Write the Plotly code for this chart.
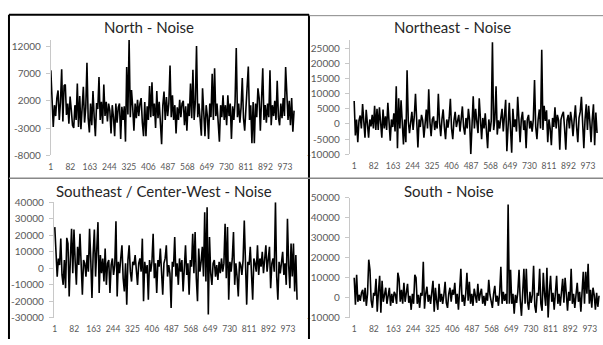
import plotly.graph_objects as go

W, H = 603, 345

# sample index (every 5th observation of ~1015)
obs_index = list(range(1, 1012, 5))

tick_positions = [1, 82, 163, 244, 325, 406, 487, 568, 649, 730, 811, 892, 973]
tick_labels = ["1", "82", "163", "244", "325", "406", "487", "568", "649", "730", "811", "892", "973"]

north_ticks = [-8000, -3000, 2000, 7000, 12000]
northeast_ticks = [-10000, -5000, 0, 5000, 10000, 15000, 20000, 25000]
southeast_cw_ticks = [-30000, -20000, -10000, 0, 10000, 20000, 30000, 40000]
south_ticks = [-10000, 0, 10000, 20000, 30000, 40000, 50000]

north = [
    7600, 500, -2800, 1200, -800, 2500, 3900, -1500, 1800, 7800,
    -1800, 4800, 5000, -600, 1500, -2200, 2800, 300, -2500, -3000,
    1200, -1500, 5200, -2800, 2900, -3200, 1000, 4600, -2000, 700,
    9000, -1200, -3800, 1500, -2500, 3800, -1000, -4500, 1600, 500,
    6400, -1500, 1800, -2200, 5000, -800, 1800, -1800, 1500, 200,
    -4000, 1200, -1000, -4500, 1500, -2000, 800, 1500, -5000, 900,
    -1500, 1000, -5500, 8200, -500, 13200, -1000, 4000, 800, -3500,
    1500, -1200, 2200, -800, 1500, 2500, -2000, -4500, 1800, -4500,
    1000, -1500, 4700, -1000, 5400, -800, 1500, -3000, 3800, -1200,
    1800, -2000, -6000, 1200, 3700, -1500, 2700, -800, 1500, 8500,
    -1000, 3000, -1500, 1200, -4000, 800, -1500, 2200, -1000, 1500,
    2000, -2500, 1000, -3500, 1500, -800, 5200, -1200, 7700, -1500,
    1800, 12100, -1000, 1500, -2000, -4400, 4300, -1000, -4500, 1200,
    -800, -5000, 1500, -1000, 7000, -1500, 8000, -800, 1500, -2000,
    -5500, 1200, -1000, 3000, -1500, 1200, -2500, 3000, -800, 1500,
    -5000, 1000, -1500, 1800, 11700, -1000, 1500, -2000, 800, 6200,
    -1200, -3500, 1500, 4500, 8300, -1500, 1200, -5800, 1800, -5800,
    1500, -1000, 4300, 2500, -3500, 1000, 8000, -1500, 1200, -2000,
    1500, -1000, 7600, -2500, 1200, -800, 2000, -1500, 5700, -1000,
    -2500, 1500, -1200, 2500, -800, 8200, 3300, -1500, 2000, -2500,
    2500, -3700, 200,
]

northeast = [
    7600, -3800, 1500, -6000, 1200, 2800, -1500, 6600, 800, -4500,
    4700, -1200, -4500, 1500, -800, 3000, -1500, 6000, -2000, 5000,
    -2000, 5500, 1500, -4500, 4800, -1500, 2500, -2000, 7000, 1200,
    -5500, 1500, -1000, 3500, -2500, 12500, -8000, 8500, -1500, 7800,
    1000, -6800, 1500, -6000, 17800, 1000, -3000, 1500, 4000, -2000,
    2500, 10000, -1500, -7800, 1500, -1000, 3000, 1200, -4500, 2000,
    4800, -1500, 11500, 800, -4000, 1500, 2500, -2000, 1000, -1500,
    10000, 500, -4000, 1500, 4800, -1000, -5000, 1500, -1200, 2000,
    8300, -1500, -5000, 1200, 4000, -1000, 1500, 3000, -2500, 1200,
    5800, -1000, -3500, 2000, -1500, 5000, 1200, -10000, 1500, 9200,
    -1500, 5000, 800, -3000, 8500, 1200, -5000, 2000, -1500, 3500,
    -1000, -8000, 1500, -2500, 1000, 27000, -2000, 1500, 12500, -3500,
    1200, -1500, 2000, 5000, -2500, 1500, 8000, -9000, 1000, 7000,
    -1500, -9500, 5000, -1000, 1500, -2500, 9000, 1000, -6000, 1500,
    4000, -2000, 1200, -8000, 1500, 3000, -1500, 1000, -2500, 1500,
    14500, -1000, -5000, 1500, 4800, -1500, 24500, -2000, 6000, 1000,
    4500, -6000, 1500, -1500, -7000, 2000, -1000, 5500, -1500, 3000,
    1200, -8500, 1500, 3000, 4000, -1500, -8500, 1200, 3000, -1500,
    4000, 1000, -4000, 1500, 6200, -1000, -6000, 2000, 4000, 9000,
    -1500, -8000, 1500, 6500, -2000, 6000, 1000, -6000, 1500, 6500,
    -7000, 3800, -3000,
]

southeast_cw = [
    25000, 4000, -5000, 6000, 2000, 18000, -4000, -10000, 5000, -12000,
    18500, 15000, -17000, 6000, 24000, -3000, 23500, 4000, -10000, 13000,
    2000, 21000, -6000, -16000, 5000, 3000, -5000, 8000, -2000, 24000,
    5000, -18000, 9000, 23500, -5000, 10000, 28000, -15000, 8000, -3000,
    6000, -8000, 12000, -10000, 3000, 5000, -15000, 2000, 6000, -4000,
    2000, 28500, -17000, 4000, -3000, 6000, 14000, -6000, -14000, 3000,
    -22000, 5000, 14000, -2000, -8000, 4000, 2000, 8000, -4000, -10000,
    3000, 6000, -2000, 18000, -20000, 4000, -3000, 2000, -19000, 5000,
    -2000, 4000, 21000, -6000, 3000, -15000, 5000, 1000, 12000, -4000,
    -16000, 3000, 6000, 14000, -5000, 2000, -3000, -24000, 4000, 1000,
    19000, -5000, 3000, -10000, 6000, -2000, 5000, -14000, 2000, 14000,
    -4000, 3000, -16000, 5000, 1000, 21000, -3000, 22000, -6000, -20000,
    12000, -2000, 4000, 13000, -5000, 34000, -8000, 37000, -28000, 19000,
    -3000, -10000, 3000, 5000, -5000, 2000, -7000, 4000, -3000, 6000,
    -2000, 3000, 27000, -6000, 25000, -19000, 4000, -2000, 6000, 22000,
    -10000, 3000, -5000, -17000, 4000, 2000, -4000, 5000, 29000, -6000,
    -22000, 4000, 2000, 13000, -5000, -19000, 6000, 3000, -2000, 14000,
    -4000, 6000, 1000, 10000, -3000, 5000, 14000, -2000, 4000, 13000,
    -12000, 3000, 6000, -2000, 40000, -5000, -19000, 4000, -3000, 2000,
    10000, -4000, 3000, -10000, 30000, 2000, -12000, 15000, -5000, 15000,
    -14000, 8000, -19000,
]

south = [
    10000, -3500, 11500, -2000, 1500, -1500, 2500, 4000, -2000, 5000,
    -4000, 2000, 19000, 14000, -1500, -5000, 2500, 1000, 9500, -7000,
    3000, 11000, -7500, 8500, -2000, 2000, 5000, -3000, 1000, 5000,
    -4000, 2000, -2500, 3000, 1500, -3000, 12500, 9500, -2000, 4000,
    -3000, 7500, -2000, 1500, 7000, -2500, 1000, -6000, 2000, -3000,
    11500, 10000, -3000, 1500, -5000, 2500, 1000, 18000, -5500, 2000,
    5500, -2000, 1500, -3000, 2000, 8500, -7000, 5000, -1500, -6000,
    7000, -2000, 2000, -3000, 1500, 8000, -2500, -5000, 2000, 5000,
    -2000, 4000, 1500, 7500, -3000, 2000, -6000, 3000, 14500, -2000,
    1500, -4000, 2000, 12500, -1500, 8000, -3000, 2000, -4000, 4500,
    1000, -2500, 7000, -1500, 2000, 4500, -3000, 1000, -4000, 2500,
    -1500, 9000, 1500, -3000, -5000, 2000, 6000, -2000, 1000, -4000,
    2500, 15500, -3000, 3000, -1500, 2000, -3000, 46500, -3000, 14000,
    -3000, 2000, -8000, 1500, -2500, 3000, 14000, -1500, -9000, 2500,
    14500, -3000, 14500, -2000, -6000, 3000, -2500, 1500, 16000, -4000,
    -7500, 2500, 1000, 14500, -3000, -6500, 12500, 2000, -4000, 15000,
    -10000, 3000, 11000, -2000, 2500, -6000, 1500, 11000, -3000, 2000,
    -4000, 1500, 9500, -2500, 10000, 2000, -6500, 3000, -1500, 14500,
    -3000, 2000, -5000, 1500, 7500, -2000, 3000, -7000, 2500, 13000,
    -3000, 13000, 2000, 17000, -3000, 4000, -5000, 5000, 1500, -6000,
    2500, -4500, 1000,
]

titles = ["North - Noise", "Northeast - Noise", "Southeast / Center-West - Noise", "South - Noise"]
series = [north, northeast, southeast_cw, south]
ytick_sets = [north_ticks, northeast_ticks, southeast_cw_ticks, south_ticks]


def px_x(v):
    return v / W


def px_y(v):
    return 1 - v / H


# layout geometry in pixels
panels = [
    dict(x0=49, x1=294, yt=34, yb=154, xr=[1, 1015], yr=[-8000, 13240], tx=147, ty=21),
    dict(x0=349, x1=598, yt=34, yb=153, xr=[-17, 1015], yr=[-10000, 27860], tx=452, ty=21),
    dict(x0=52, x1=297, yt=203, yb=323, xr=[-3, 1015], yr=[-30000, 40000], tx=163, ty=191),
    dict(x0=349, x1=600, yt=198, yb=323, xr=[-17, 1015], yr=[-10000, 50000], tx=448, ty=191),
]

FONT = "Lato"
ytick_font = dict(family=FONT, size=10, color="#595959")
xtick_font = dict(family=FONT, size=8.5, color="#595959")

fig = go.Figure()
annotations = []
for i, (p, s, t, yt) in enumerate(zip(panels, series, titles, ytick_sets)):
    n = "" if i == 0 else str(i + 1)
    fig.add_trace(go.Scatter(
        x=obs_index, y=s, mode="lines",
        line=dict(color="black", width=1.6),
        xaxis="x" + n, yaxis="y" + n, showlegend=False, hoverinfo="skip",
    ))
    fig.layout["xaxis" + n] = dict(
        domain=[px_x(p["x0"]), px_x(p["x1"])], range=p["xr"], anchor="y" + n,
        tickmode="array", tickvals=tick_positions, ticktext=tick_labels, tickangle=0,
        showline=False, showgrid=False, zeroline=False, ticks="",
        tickfont=xtick_font, ticklabelstandoff=5, fixedrange=True,
    )
    fig.layout["yaxis" + n] = dict(
        domain=[px_y(p["yb"]), px_y(p["yt"])], range=p["yr"], anchor="x" + n,
        tickmode="array", tickvals=yt, ticktext=[str(v) for v in yt],
        showline=True, linecolor="#c8c8c8", linewidth=1,
        ticks="outside", ticklen=4, tickcolor="#c8c8c8", showgrid=False, zeroline=False,
        tickfont=ytick_font, ticklabelstandoff=3, fixedrange=True,
    )
    annotations.append(dict(
        text=t, x=px_x(p["tx"]), y=px_y(p["ty"]), xref="paper", yref="paper",
        xanchor="center", yanchor="middle", showarrow=False,
        font=dict(family=FONT, size=15, color="#262626"),
    ))

shapes = [
    dict(type="line", xref="paper", yref="paper", x0=px_x(7), x1=px_x(308), y0=px_y(8), y1=px_y(8),
         line=dict(color="black", width=2)),
    dict(type="line", xref="paper", yref="paper", x0=px_x(7), x1=px_x(7), y0=px_y(8), y1=0,
         line=dict(color="black", width=2)),
    dict(type="line", xref="paper", yref="paper", x0=px_x(308), x1=px_x(308), y0=px_y(8), y1=0,
         line=dict(color="black", width=2)),
    dict(type="line", xref="paper", yref="paper", x0=px_x(308), x1=1, y0=px_y(9), y1=px_y(9),
         line=dict(color="#888888", width=1)),
    dict(type="line", xref="paper", yref="paper", x0=px_x(7), x1=1, y0=px_y(178), y1=px_y(178),
         line=dict(color="#888888", width=1.5)),
]

fig.update_layout(
    width=W, height=H, margin=dict(l=0, r=0, t=0, b=0),
    paper_bgcolor="white", plot_bgcolor="white",
    annotations=annotations, shapes=shapes,
)

# remove the browser's default page margin so the figure fills the window exactly
fig.write_html(
    "out.html",
    config={"displayModeBar": False, "staticPlot": True},
    post_script="document.body.style.margin = '0px'; document.body.style.overflow = 'hidden';",
)
